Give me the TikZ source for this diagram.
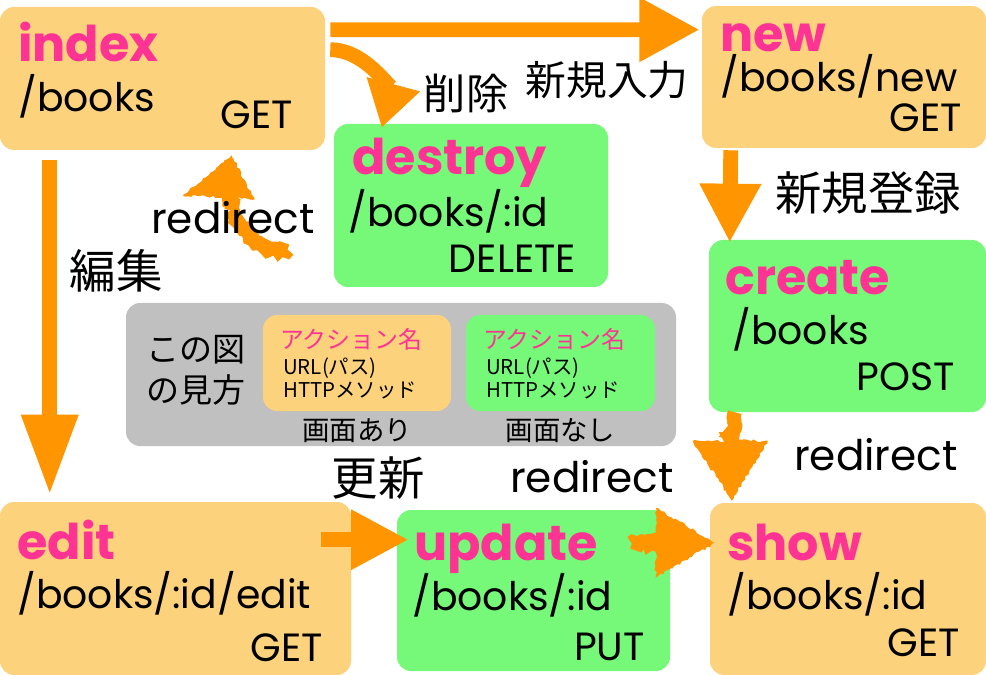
\documentclass[tikz,border=0pt]{standalone}
\usepackage{fontspec}
\setmainfont{Poppins}
\newfontfamily\jpfont{Noto Sans CJK JP}
\usepackage{tikz}
\usetikzlibrary{arrows.meta,positioning,fit,calc,decorations.pathmorphing}
\definecolor{screenbg}{HTML}{FDD27C}
\definecolor{noscreenbg}{HTML}{76F979}
\definecolor{actpink}{HTML}{FF3393}
\definecolor{arrowc}{HTML}{FF9500}
\definecolor{legendgray}{HTML}{C0C0C0}

\begin{document}
\begin{tikzpicture}[x=0.025cm,y=-0.025cm,
    withview/.style={fill=screenbg,rounded corners=10pt,inner sep=0pt},
    noview/.style={fill=noscreenbg,rounded corners=10pt,inner sep=0pt},
    act/.style={anchor=base west,inner sep=0pt,text=actpink,font=\fontsize{35}{40}\selectfont\bfseries},
    urlt/.style={anchor=base west,inner sep=0pt,font=\fontsize{28}{32}\selectfont},
    verbt/.style={anchor=base east,inner sep=0pt,font=\fontsize{28}{32}\selectfont},
    jlabel/.style={inner sep=0pt,font=\jpfont\fontsize{33}{36}\selectfont},
    elabel/.style={inner sep=0pt,font=\fontsize{30}{34}\selectfont},
    flow/.style={draw=arrowc,line width=10.5pt},
    rough/.style={draw=arrowc,line width=10pt,decorate,decoration={random steps,segment length=2pt,amplitude=1.3pt}},
    roughhead/.style={fill=arrowc,decorate,decoration={random steps,segment length=2pt,amplitude=1pt}}]
  \useasboundingbox (0,0) rectangle (986,675);

  % actions
  \node[withview,fit={(0,7) (325,150)}] (index) {};
  \node[act] (indexA) at (18,62) {index};
  \node[urlt] (indexU) at (18,112) {/books};
  \node[verbt] (indexV) at (293,129) {GET};

  \node[withview,fit={(702,6) (986,148)}] (new) {};
  \node[act] (newA) at (720,52) {new};
  \node[urlt] (newU) at (720,92) {/books/new};
  \node[verbt] (newV) at (962,132) {GET};

  \node[noview,fit={(334,124) (608,287)}] (destroy) {};
  \node[act] (destroyA) at (352,175) {destroy};
  \node[urlt] (destroyU) at (348,227) {/books/:id};
  \node[verbt] (destroyV) at (576,273) {DELETE};

  \node[noview,fit={(709,240) (986,412)}] (create) {};
  \node[act] (createA) at (725,295) {create};
  \node[urlt] (createU) at (732,345) {/books};
  \node[verbt] (createV) at (955,390) {POST};

  \node[withview,fit={(0,502) (351,675)}] (edit) {};
  \node[act] (editA) at (17,559) {edit};
  \node[urlt] (editU) at (17,608) {/books/:id/edit};
  \node[verbt] (editV) at (323,661) {GET};

  \node[noview,fit={(397,510) (670,671)}] (update) {};
  \node[act] (updateA) at (414,560) {update};
  \node[urlt] (updateU) at (412,610) {/books/:id};
  \node[verbt] (updateV) at (645,660) {PUT};

  \node[withview,fit={(710,503) (986,675)}] (show) {};
  \node[act] (showA) at (727,560) {show};
  \node[urlt] (showU) at (727,609) {/books/:id};
  \node[verbt] (showV) at (960,656) {GET};

  % legend
  \node[fill=legendgray,rounded corners=10pt,inner sep=0pt,fit={(126,303) (676,446)}] (legend) {};
  \node[anchor=base west,inner sep=0pt,font=\jpfont\fontsize{23.5}{28}\selectfont] (howtoA) at (146,361) {この図};
  \node[anchor=base west,inner sep=0pt,font=\jpfont\fontsize{23.5}{28}\selectfont] (howtoB) at (146,402) {の見方};
  \node[withview,fit={(263,315) (451,411)}] (keyview) {};
  \node[noview,fit={(466,315) (655,411)}] (keynoview) {};
  \foreach \k/\x in {keyview/280,keynoview/483} {
    \node[anchor=base west,inner sep=0pt,text=actpink,font=\jpfont\fontsize{17}{20}\selectfont] (\k A) at (\x,348) {アクション名};
    \node[anchor=base west,inner sep=0pt,font=\jpfont\fontsize{14.5}{17}\selectfont] (\k U) at (\x+3,374) {URL(パス)};
    \node[anchor=base west,inner sep=0pt,font=\jpfont\fontsize{14.5}{17}\selectfont] (\k V) at (\x+3,397) {HTTPメソッド};
  }
  \node[anchor=base,inner sep=0pt,font=\jpfont\fontsize{19.5}{22}\selectfont] (keyviewC) at ($(keyview.south)+(0,29)$) {画面あり};
  \node[anchor=base,inner sep=0pt,font=\jpfont\fontsize{19.5}{22}\selectfont] (keynoviewC) at ($(keynoview.south)+(0,29)$) {画面なし};

  % labels
  \node[jlabel,font=\jpfont\fontsize{30}{32}\selectfont] (delL) at (466,93) {削除};
  \node[jlabel,font=\jpfont\fontsize{29}{32}\selectfont] (newL) at (607,80) {新規入力};
  \node[jlabel] (createL) at (868,193) {新規登録};
  \node[jlabel] (editL) at (116,271) {編集};
  \node[jlabel] (updateL) at (378,478) {更新};

  % transitions
  \draw[flow,-{Triangle[length=43pt,width=43pt]}] ($(index.north east)+(5,23)$) -- ($(new.north west)+(-2,24)$);
  \draw[flow,-{Triangle[length=32pt,width=37pt]}] ($(index.north east)+(5,43)$) to[out=0,in=75] ($(destroy.north west)+(48,4)$);
  \draw[flow,-{Triangle[length=57pt,width=38pt]}] ($(index.south west)+(50,10)$) -- ($(edit.north west)+(50,-7)$);
  \draw[flow,-{Triangle[length=42pt,width=41pt]}] ($(new.south west)+(29,2)$) -- ($(create.north west)+(21,3)$);
  \draw[flow,-{Triangle[length=41pt,width=40pt]}] ($(edit.north east)+(-30,38)$) -- ($(update.north west)+(12,30)$);

  % redirects
  \coordinate (redirStart) at (288,250);
  \coordinate (rA) at ($(index.south west)+(232,5)$);
  \coordinate (rB) at ($(show.north west)+(22,-2)$);
  \coordinate (rC) at ($(show.north west)+(5,40)$);
  \draw[rough] (redirStart) to[out=190,in=-80] ($(rA)+(-3,38)$);
  \fill[roughhead] (rA) -- ++(-49,40) -- ++(72,4) -- cycle;
  \draw[rough] ($(create.south west)+(26,0)$) -- ($(rB)+(0,-55)$);
  \fill[roughhead] (rB) -- ++(-39,-60) -- ++(75,0) -- cycle;
  \draw[rough] ($(update.north east)+(-39,33)$) -- ($(rC)+(-55,0)$);
  \fill[roughhead] (rC) -- ++(-59,-35) -- ++(0,70) -- cycle;

  \node[elabel] (redirA) at (233,218) {redirect};
  \node[elabel] (redirB) at (592,477) {redirect};
  \node[elabel] (redirC) at (876,455) {redirect};
\end{tikzpicture}
\end{document}
